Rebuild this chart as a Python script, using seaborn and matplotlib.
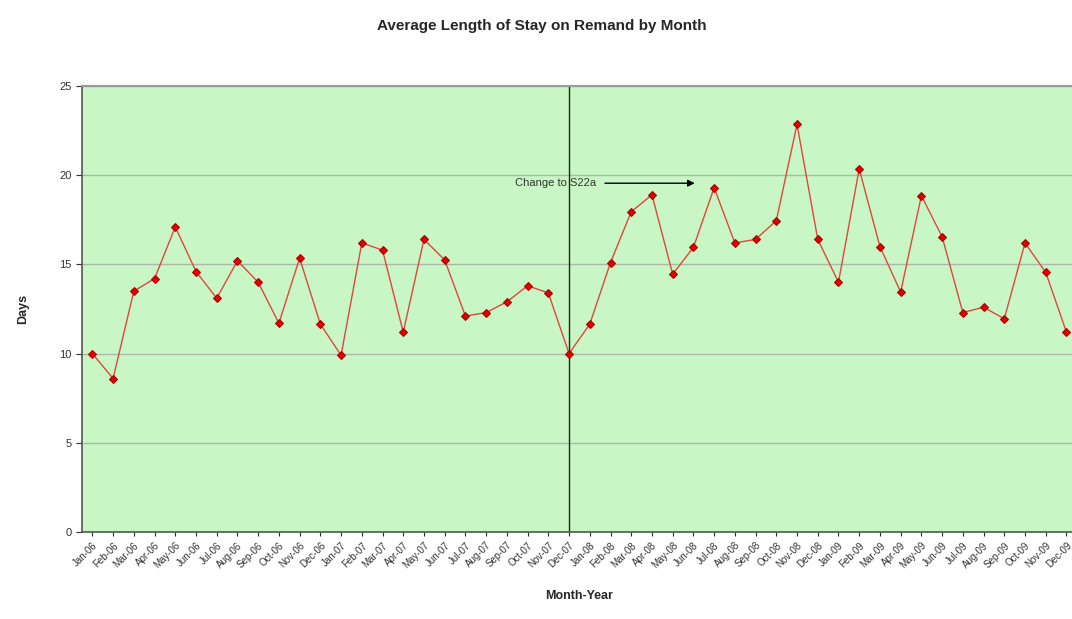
"""
Average length of stay on remand, monthly line chart
"""

import numpy as np
import pandas as pd
import matplotlib
matplotlib.use('Agg')
import matplotlib.pyplot as plt
import seaborn as sns

# Data
months = [
    'Jan-06', 'Feb-06', 'Mar-06', 'Apr-06', 'May-06', 'Jun-06',
    'Jul-06', 'Aug-06', 'Sep-06', 'Oct-06', 'Nov-06', 'Dec-06',
    'Jan-07', 'Feb-07', 'Mar-07', 'Apr-07', 'May-07', 'Jun-07',
    'Jul-07', 'Aug-07', 'Sep-07', 'Oct-07', 'Nov-07', 'Dec-07',
    'Jan-08', 'Feb-08', 'Mar-08', 'Apr-08', 'May-08', 'Jun-08',
    'Jul-08', 'Aug-08', 'Sep-08', 'Oct-08', 'Nov-08', 'Dec-08',
    'Jan-09', 'Feb-09', 'Mar-09', 'Apr-09', 'May-09', 'Jun-09',
    'Jul-09', 'Aug-09', 'Sep-09', 'Oct-09', 'Nov-09', 'Dec-09',
]
days = [
    10.0, 8.6, 13.5, 14.2, 17.1, 14.6, 13.1, 15.2, 14.0, 11.7, 15.35, 11.65,
    9.9, 16.2, 15.8, 11.2, 16.4, 15.25, 12.1, 12.3, 12.9, 13.8, 13.4, 10.0,
    11.65, 15.1, 17.95, 18.9, 14.45, 15.95, 19.3, 16.2, 16.4, 17.45, 22.85, 16.4,
    14.0, 20.35, 16.0, 13.45, 18.85, 16.55, 12.3, 12.6, 11.95, 16.2, 14.55, 11.2,
]
change_month = 'Dec-07'
annotation_text = 'Change to S22a'

df = pd.DataFrame({'month': months, 'days': days})
df['idx'] = np.arange(len(df))

sns.set_style('white')
plt.rcParams['font.family'] = ['Liberation Sans', 'DejaVu Sans']

fig = plt.figure(figsize=(10.72, 6.19), dpi=100)
# axes runs slightly past the right edge, as in the original
ax = fig.add_axes([0.0765, 0.1406, 0.928, 0.7205])
ax.set_facecolor('#c8f7c5')

sns.lineplot(data=df, x='idx', y='days', ax=ax, color='#e0463c', linewidth=1.0,
             marker='D', markersize=4.5, markerfacecolor='#e00000',
             markeredgecolor='#a80000', zorder=3)

# Vertical marker at the change point
ax.axvline(months.index(change_month), color='#222222', linewidth=1.0, zorder=2)

# Annotation with arrow
ax.annotate('', xy=(29.2, 19.55), xytext=(24.6, 19.55),
            arrowprops=dict(arrowstyle='-|>', color='black', lw=1.0,
                            mutation_scale=10))
ax.text(20.4, 19.55, annotation_text, fontsize=8, va='center', ha='left',
        color='#333333')

ax.set_xlim(-0.5, len(months) - 0.5)
ax.set_ylim(0, 25)
ax.set_yticks([0, 5, 10, 15, 20, 25])
ax.yaxis.grid(True, color='#aab8aa', linewidth=1.0)
ax.set_axisbelow(True)

ax.set_xticks(df['idx'])
ax.set_xticklabels(months, rotation=45, ha='right', rotation_mode='anchor',
                   fontsize=7, color='#333333')
ax.tick_params(axis='y', labelsize=8, colors='#333333', length=4,
               direction='out', left=True)
ax.tick_params(axis='x', length=3, direction='out', bottom=True, pad=3)

for side in ['left', 'bottom']:
    ax.spines[side].set_color('#555555')
    ax.spines[side].set_linewidth(1.2)
ax.spines['top'].set_color('#999999')
ax.spines['top'].set_linewidth(1.5)
ax.spines['right'].set_visible(False)

ax.set_xlabel('Month-Year', fontsize=9, fontweight='bold', labelpad=14)
ax.set_ylabel('Days', fontsize=9, fontweight='bold', labelpad=22)
fig.text(0.505, 0.958, 'Average Length of Stay on Remand by Month',
         ha='center', va='center', fontsize=11, fontweight='bold')

fig.savefig('out.png', dpi=100)
plt.close(fig)
